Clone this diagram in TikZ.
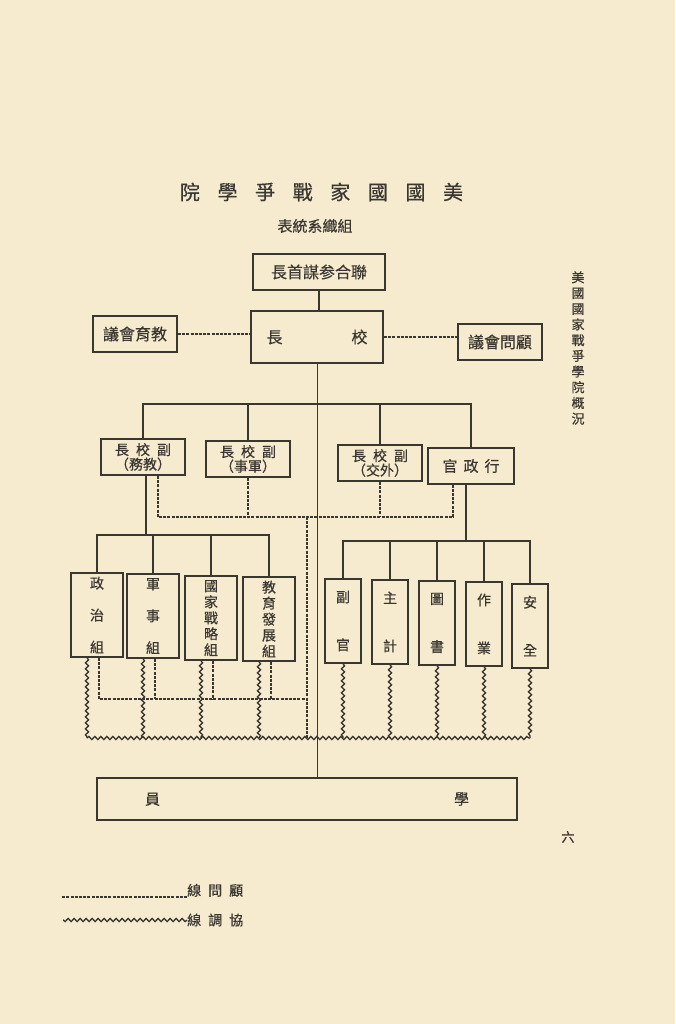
\documentclass[tikz,border=0pt]{standalone}
\usepackage{fontspec}
\newfontfamily\cjk[FakeBold=0.5]{Noto Sans CJK TC}
\usetikzlibrary{calc,decorations.pathmorphing}
\definecolor{paper}{RGB}{247,235,207}
\definecolor{ink}{RGB}{58,54,48}
\newcommand{\fsz}[2]{\fontsize{#1}{#2}\selectfont}
\tikzset{
  box/.style={draw=ink, line width=1.9pt, inner sep=0pt, text=ink, align=center},
  label/.style={inner sep=0pt, text=ink, align=center},
  link/.style={draw=ink, line width=1.8pt},
  advice/.style={draw=ink, line width=1.8pt, dash pattern=on 3pt off 1.2pt},
  coordline/.style={draw=ink, line width=1.3pt, decorate,
    decoration={snake, segment length=6pt, amplitude=1.6pt}},
}

\begin{document}
\begin{tikzpicture}[x=1pt,y=-1pt]
\fill[paper] (0,0) rectangle (675,1024);
\useasboundingbox (0,0) rectangle (675,1024);

% titles
\node[label, font=\cjk\fsz{20}{22}] (title) at (321.5,192)
  {院\hspace{17.6pt}學\hspace{17.6pt}爭\hspace{17.6pt}戰\hspace{17.6pt}家\hspace{17.6pt}國\hspace{17.6pt}國\hspace{17.6pt}美};
\node[label, font=\cjk\fsz{15}{17}] (subtitle) at (315,226) {表統系織組};
\node[label, font=\cjk\fsz{13}{15.7}] (side) at (578,348)
  {美\\國\\國\\家\\戰\\爭\\學\\院\\概\\況};
\node[label, font=\cjk\fsz{13}{15}] (page) at (568,837) {六};

% top
\node[box, minimum width=132pt, minimum height=36pt, font=\cjk\fsz{16}{18}] (jcs) at (319,272) {長首謀参合聯};
\node[box, minimum width=132pt, minimum height=52pt, font=\cjk\fsz{16}{18}] (pres) at (317,337) {長\hspace{69pt}校};
\node[box, minimum width=84pt, minimum height=36pt, font=\cjk\fsz{16}{18}] (edu) at (135,334) {議會育教};
\node[box, minimum width=84pt, minimum height=36pt, font=\cjk\fsz{16}{18}] (adv) at (500,342) {議會問顧};

% vice presidents
\tikzset{vpbox/.style={box, minimum width=84pt, minimum height=36pt, font=\cjk\fsz{14}{14.5}}}
\node[vpbox] (vp1) at (143,457) {長\hspace{7pt}校\hspace{7pt}副\\（務教）};
\node[vpbox] (vp2) at (248,459) {長\hspace{7pt}校\hspace{7pt}副\\（事軍）};
\node[vpbox] (vp3) at (380,463) {長\hspace{7pt}校\hspace{7pt}副\\（交外）};
\node[vpbox, minimum width=86pt, font=\cjk\fsz{15}{18}] (exec) at (471,466) {官\hspace{6pt}政\hspace{6pt}行};

% groups
\tikzset{grpbox/.style={box, minimum width=52pt, minimum height=84pt}}
\node[grpbox, font=\cjk\fsz{14}{32}] (g1) at (97,615) {政\\治\\組};
\node[grpbox, font=\cjk\fsz{14}{32}] (g2) at (153,616) {軍\\事\\組};
\node[grpbox, font=\cjk\fsz{14}{16}] (g3) at (211,618) {國\\家\\戰\\略\\組};
\node[grpbox, font=\cjk\fsz{14}{16}] (g4) at (269,619) {教\\育\\發\\展\\組};

\tikzset{secbox/.style={box, minimum width=36pt, minimum height=84pt, font=\cjk\fsz{14}{48}}}
\node[secbox] (s1) at (343,621) {副\\官};
\node[secbox] (s2) at (390,622) {主\\計};
\node[secbox] (s3) at (437,623) {圖\\書};
\node[secbox] (s4) at (484,624) {作\\業};
\node[secbox] (s5) at (530,626) {安\\全};

\node[box, minimum width=420pt, minimum height=42pt, font=\cjk\fsz{15}{18}] (stud) at (307,799) {員\hspace{294pt}學};

% junctions
\coordinate (bus) at (317,404);
\coordinate (dbus) at (307,517);
\coordinate (lbus) at (180,535);
\coordinate (rbus) at (440,541);
\coordinate (ldash) at (200,699);
\coordinate (wbus) at (310,738);

% command lines
\draw[link] (jcs.south) -- (jcs.south |- pres.north);
\draw[draw=ink, line width=0.9pt] (pres.south) -- (pres.south |- stud.north);
\draw[link] (vp1.north) |- (exec.north |- bus) -- (exec.north);
\foreach \n in {vp2,vp3} \draw[link] (\n.north) -- (\n.north |- bus);
\draw[link] ([xshift=3pt]vp1.south) -- ([xshift=3pt]vp1.south |- lbus);
\draw[link] (g1.north) |- (g4.north |- lbus) -- (g4.north);
\foreach \n in {g2,g3} \draw[link] (\n.north) -- (\n.north |- lbus);
\coordinate (execs) at ($(exec.south)+(-5,0)$);
\draw[link] (execs) -- (execs |- rbus);
\draw[link] (s1.north) |- (s5.north |- rbus) -- (s5.north);
\foreach \n in {s2,s3,s4} \draw[link] (\n.north) -- (\n.north |- rbus);

% advisory lines
\draw[advice] (edu.east) -- (edu.east -| pres.west);
\draw[advice] (pres.east) -- (pres.east -| adv.west);
\coordinate (vp1d) at ($(vp1.south)+(15,0)$);
\coordinate (execd) at ($(exec.south)+(-18,0)$);
\draw[advice] (vp1d) |- (execd |- dbus) -- (execd);
\foreach \n in {vp2,vp3} \draw[advice] (\n.south) -- (\n.south |- dbus);
\draw[advice] (dbus) -- (dbus |- wbus);
\foreach \n in {g1,g2,g3,g4} \coordinate (d\n) at ($(\n.south)+(2,0)$);
\draw[advice] (dg1) |- (dbus |- ldash);
\foreach \n in {g2,g3,g4} \draw[advice] (d\n) -- (d\n |- ldash);

% coordination lines
\foreach \n in {g1,g2,g3,g4} {
  \coordinate (w\n) at ($(\n.south)+(-10,0)$);
  \draw[coordline] (w\n) -- (w\n |- wbus);
}
\foreach \n in {s1,s2,s3,s4,s5} \draw[coordline] (\n.south) -- (\n.south |- wbus);
\draw[coordline] (wg1 |- wbus) -- (s5.south |- wbus);

% legend
\node[label, anchor=south west, font=\cjk\fsz{14}{16}] (legadv) at (187,897) {線\hspace{7pt}問\hspace{7pt}顧};
\node[label, anchor=west, font=\cjk\fsz{14}{16}] (legco) at (187,920) {線\hspace{7pt}調\hspace{7pt}協};
\draw[advice] (legadv.south west) -- ++(-125,0);
\draw[coordline] (legco.west) -- ++(-124,0);
\end{tikzpicture}
\end{document}
